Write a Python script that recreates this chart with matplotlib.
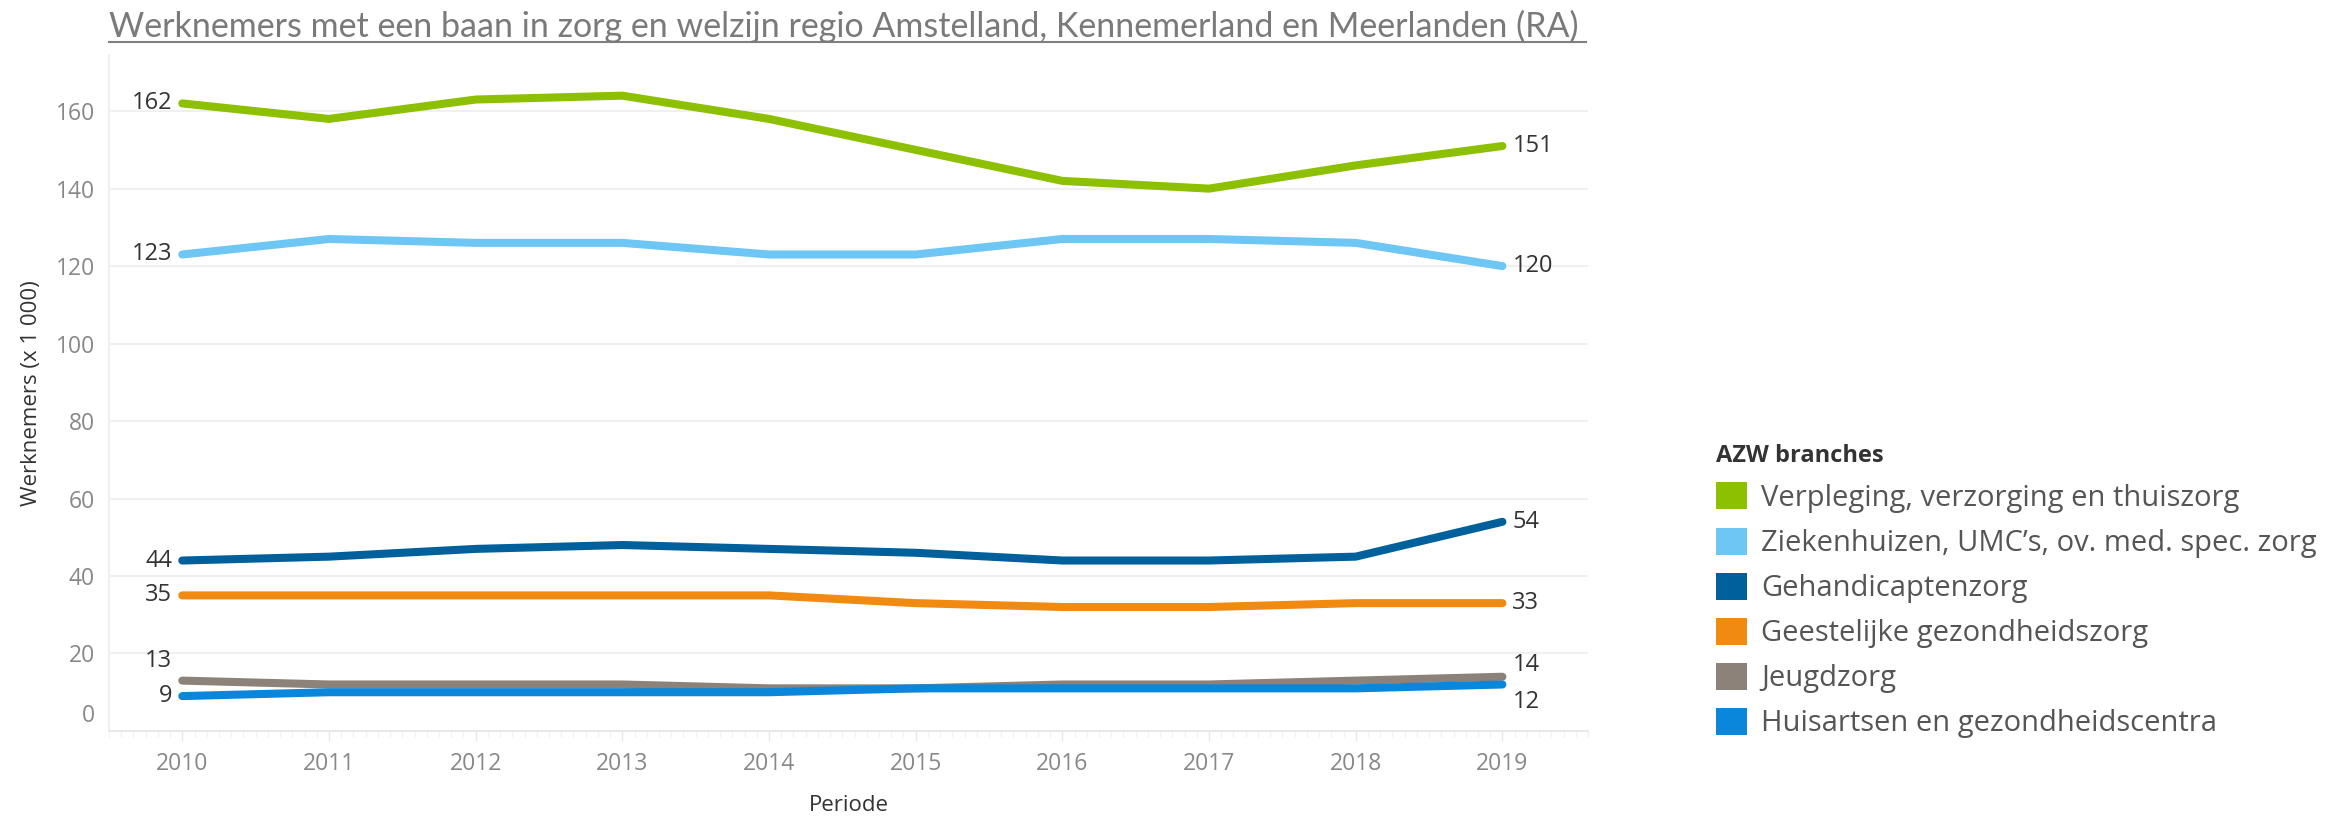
import numpy as np
import matplotlib.pyplot as plt
from matplotlib.patches import Patch
from matplotlib.lines import Line2D
import matplotlib.transforms as mtransforms

# Gegevens (x 1 000 werknemers)
jaren = [2010, 2011, 2012, 2013, 2014, 2015, 2016, 2017, 2018, 2019]
branches = [
    "Verpleging, verzorging en thuiszorg",
    "Ziekenhuizen, UMC\u2019s, ov. med. spec. zorg",
    "Gehandicaptenzorg",
    "Geestelijke gezondheidszorg",
    "Jeugdzorg",
    "Huisartsen en gezondheidscentra",
]
vvt = [162, 158, 163, 164, 158, 150, 142, 140, 146, 151]
ziekenhuizen = [123, 127, 126, 126, 123, 123, 127, 127, 126, 120]
gehandicapten = [44, 45, 47, 48, 47, 46, 44, 44, 45, 54]
ggz = [35, 35, 35, 35, 35, 33, 32, 32, 33, 33]
jeugdzorg = [13, 12, 12, 12, 11, 11, 12, 12, 13, 14]
huisartsen = [9, 10, 10, 10, 10, 11, 11, 11, 11, 12]
y_ticks = [0, 20, 40, 60, 80, 100, 120, 140, 160]

reeksen = [vvt, ziekenhuizen, gehandicapten, ggz, jeugdzorg, huisartsen]
kleuren = ["#8cc000", "#6ec6f5", "#00609c", "#f08a10", "#8c8279", "#0a86da"]
# verschuiving (px) van de labels links / rechts
label_dy_links = [0, 0, 0, 0, 20, 0]
label_dy_rechts = [0, 0, 0, 0, 12, -18]

plt.rcParams["font.family"] = ["Open Sans", "DejaVu Sans"]

fig = plt.figure(figsize=(23.38, 8.17), dpi=100)
ax = fig.add_axes([0.0466, 0.1053, 0.6326, 0.8274])

for reeks, kleur in zip(reeksen, kleuren):
    ax.plot(jaren, reeks, color=kleur, linewidth=5.8, solid_capstyle="round",
            solid_joinstyle="round")

# waardelabels aan begin en eind
for reeks, dyl, dyr in zip(reeksen, label_dy_links, label_dy_rechts):
    tl = mtransforms.offset_copy(ax.transData, fig=fig, x=-10, y=dyl, units="dots")
    ax.text(jaren[0], reeks[0], str(reeks[0]), transform=tl, ha="right",
            va="center", fontsize=17, color="#333333")
    tr = mtransforms.offset_copy(ax.transData, fig=fig, x=10, y=dyr, units="dots")
    ax.text(jaren[-1], reeks[-1], str(reeks[-1]), transform=tr, ha="left",
            va="center", fontsize=17, color="#333333")

ax.set_xlim(2009.52, 2019.53)
ax.set_ylim(0, 174.5)
ax.set_xticks(jaren)
ax.set_xticks(np.arange(2009.5, 2019.6, 1 / 12), minor=True)
ax.set_yticks(y_ticks)
ax.tick_params(axis="y", length=0, pad=10, labelsize=16.5, labelcolor="#888888")
ax.tick_params(axis="x", which="major", length=7, width=1, color="#e8e8e8",
               pad=8, labelsize=16.5, labelcolor="#888888")
ax.tick_params(axis="x", which="minor", length=4, width=1, color="#f2f2f2")

# label 0 iets omhoog zoals in het origineel
nul = ax.get_yticklabels()[0]
nul.set_transform(nul.get_transform() + mtransforms.ScaledTranslation(0, 18 / 100, fig.dpi_scale_trans))

ax.grid(axis="y", color="#f0f0f0", linewidth=1.5)
ax.set_axisbelow(True)
for kant in ["top", "right"]:
    ax.spines[kant].set_visible(False)
ax.spines["left"].set_color("#ececec")
ax.spines["bottom"].set_color("#e6e6e6")
ax.spines["left"].set_linewidth(1.2)
ax.spines["bottom"].set_linewidth(1.2)

ax.set_xlabel("Periode", fontsize=16, color="#333333", labelpad=14)
ax.set_ylabel("Werknemers (x 1 000)", fontsize=16, color="#333333", labelpad=10)

# titel met onderstreping
titel = fig.text(0.0466, 0.968, "Werknemers met een baan in zorg en welzijn regio Amstelland, "
                 "Kennemerland en Meerlanden (RA)", family=["Lato", "DejaVu Sans"],
                 fontsize=24.5, color="#7a7a7a", ha="left", va="center")
fig.add_artist(Line2D([0.0466, 0.6785], [0.949, 0.949], color="#808080", linewidth=1.5))

# legenda
handles = [Patch(facecolor=k, edgecolor="none") for k in kleuren]
leg = fig.legend(handles, branches, loc="upper left", bbox_to_anchor=(0.729, 0.471),
                 frameon=False, fontsize=21, title="AZW branches",
                 title_fontproperties={"size": 17, "weight": "bold"},
                 handlelength=1.05, handleheight=1.05, handletextpad=0.5,
                 labelspacing=0.5, borderaxespad=0, alignment="left")
for t in leg.get_texts():
    t.set_color("#555555")
leg.get_title().set_color("#333333")

fig.savefig("out.png", dpi=100)
